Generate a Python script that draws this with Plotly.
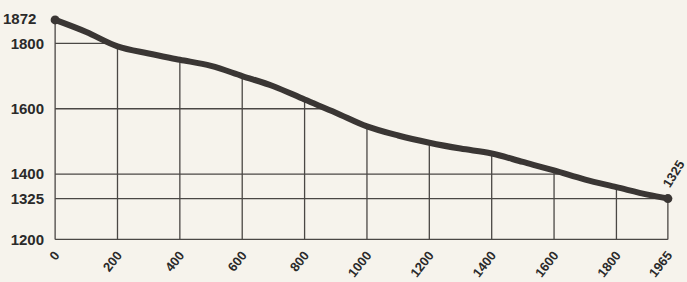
import numpy as np
import plotly.graph_objects as go

# Data
years = [0, 100, 200, 300, 400, 500, 600, 700, 800, 900, 1000,
         1100, 1200, 1300, 1400, 1500, 1600, 1700, 1800, 1900, 1965]
heights = [1872, 1835, 1791, 1769, 1750, 1731, 1700, 1669, 1628, 1588, 1546,
           1518, 1496, 1478, 1463, 1437, 1411, 1383, 1360, 1337, 1325]

x_ticks = [0, 200, 400, 600, 800, 1000, 1200, 1400, 1600, 1800, 1965]
x_tick_labels = ["0", "200", "400", "600", "800", "1000", "1200", "1400", "1600", "1800", "1965"]
y_ticks = [1200, 1325, 1400, 1600, 1800]
y_tick_labels = ["1200", "1325", "1400", "1600", "1800"]
start_label = "1872"
grid_levels = [1325, 1400, 1600, 1800]
end_label = "1325"

yr = np.array(years, dtype=float)
ht = np.array(heights, dtype=float)
base = min(y_ticks)

# drop lines: vertical from base to curve, horizontal from y-axis to curve
gx, gy = [], []
for xv in x_ticks:
    top = float(np.interp(xv, yr, ht))
    gx += [xv, xv, None]
    gy += [base, top, None]
for lv in grid_levels:
    xc = float(np.interp(lv, ht[::-1], yr[::-1]))
    gx += [0, xc, None]
    gy += [lv, lv, None]
gx += [0, years[-1], None]
gy += [base, base, None]

ink = "#3a3634"
txt = "#2a2a2a"
bg = "#f6f3ec"
fig = go.Figure()
fig.add_trace(go.Scatter(x=gx, y=gy, mode="lines",
                         line=dict(color="#4a4744", width=1.3),
                         hoverinfo="skip", showlegend=False))
fig.add_trace(go.Scatter(x=years, y=heights, mode="lines",
                         line=dict(color=ink, width=6, shape="spline", smoothing=1.0),
                         showlegend=False))
fig.add_trace(go.Scatter(x=[years[0], years[-1]], y=[heights[0], heights[-1]],
                         mode="markers", marker=dict(color=ink, size=9),
                         cliponaxis=False, showlegend=False))

yfnt = dict(family="Liberation Sans", size=15, color=txt, weight="bold")
xfnt = dict(family="Liberation Sans", size=13, color=txt, weight="bold")

fig.add_annotation(x=years[-1], y=heights[-1], text=end_label, showarrow=False,
                   textangle=-58, xanchor="center", yanchor="bottom",
                   xshift=6, yshift=6,
                   font=dict(family="Liberation Sans", size=13, color=txt, weight="bold"))
fig.add_annotation(xref="paper", x=0, y=heights[0], text=start_label, showarrow=False,
                   xanchor="right", yanchor="middle", xshift=-14, yshift=1, font=yfnt)

fig.update_layout(
    width=687, height=282,
    margin=dict(l=52, r=16, t=14, b=40, autoexpand=False),
    paper_bgcolor=bg, plot_bgcolor=bg,
    xaxis=dict(range=[-10, 1975], tickvals=x_ticks, ticktext=x_tick_labels,
               tickangle=-52, showgrid=False, zeroline=False, showline=False,
               ticks="", tickfont=xfnt, ticklabelstandoff=2, fixedrange=True,
               automargin=False),
    yaxis=dict(range=[1192, 1890], tickvals=y_ticks, ticktext=y_tick_labels,
               showgrid=False, zeroline=False, showline=False,
               ticks="", tickfont=yfnt, ticklabelstandoff=7, fixedrange=True,
               automargin=False),
)

fig.write_html("out.html", config={"displayModeBar": False},
               post_script="document.body.style.margin='0';"
                           "document.body.style.background='" + bg + "';")
